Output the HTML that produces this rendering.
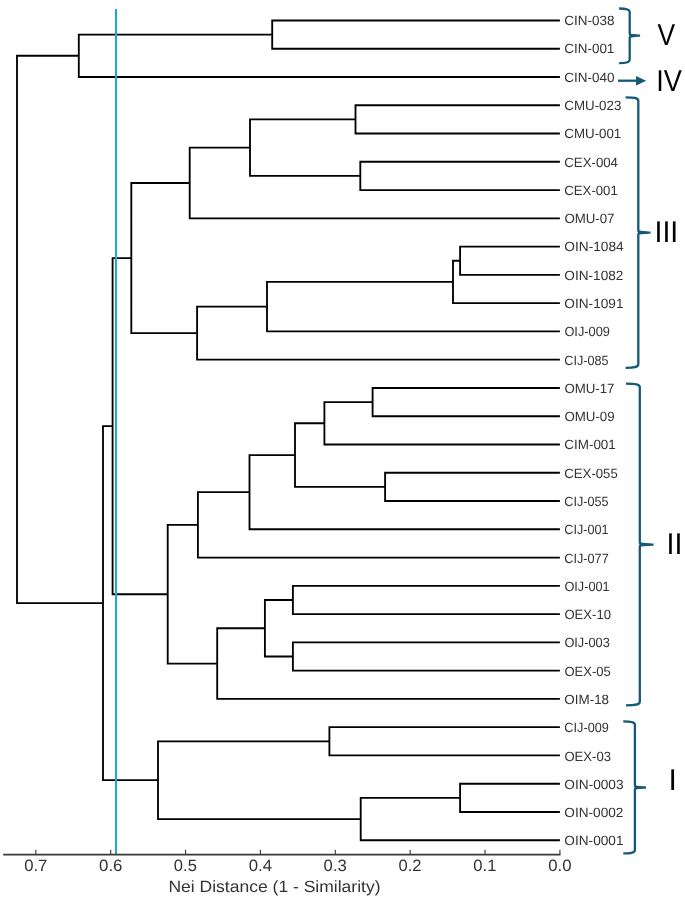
<!DOCTYPE html>
<html><head><meta charset="utf-8"><style>
html,body{margin:0;padding:0;background:#fff;width:685px;height:897px;overflow:hidden;font-family:"Liberation Sans",sans-serif;}
svg{display:block;will-change:transform;}
</style></head><body>
<svg width="685" height="897" viewBox="0 0 685 897">
<rect width="685" height="897" fill="#fff"/>
<path d="M559.90 20.45H272.20V48.72H559.90M272.20 34.58H78.80V76.99H559.90M559.90 105.26H355.50V133.53H559.90M559.90 161.79H360.30V190.06H559.90M355.50 119.39H250.00V175.93H360.30M250.00 147.66H189.70V218.33H559.90M559.90 246.60H460.10V274.87H559.90M460.10 260.74H453.00V303.14H559.90M453.00 281.94H267.00V331.41H559.90M267.00 306.67H197.10V359.68H559.90M189.70 183.00H131.30V333.18H197.10M559.90 387.95H372.60V416.22H559.90M372.60 402.08H324.40V444.48H559.90M559.90 472.75H385.10V501.02H559.90M324.40 423.28H295.00V486.89H385.10M295.00 455.09H249.50V529.29H559.90M249.50 492.19H197.90V557.56H559.90M559.90 585.83H292.90V614.10H559.90M559.90 642.37H292.90V670.64H559.90M292.90 599.96H264.90V656.50H292.90M264.90 628.23H217.20V698.91H559.90M197.90 524.87H167.70V663.57H217.20M131.30 258.09H112.60V594.22H167.70M559.90 727.17H329.40V755.44H559.90M559.90 783.71H460.10V811.98H559.90M460.10 797.85H360.70V840.25H559.90M329.40 741.31H158.00V819.05H360.70M112.60 426.15H103.00V780.18H158.00M78.80 55.79H17.00V603.17H103.00" fill="none" stroke="#000" stroke-width="1.85" stroke-linejoin="miter" stroke-linecap="butt"/>
<line x1="116.0" y1="9.0" x2="116.0" y2="854" stroke="#2ba3d2" stroke-width="2.1"/>
<path d="M3.2 854.6H560.5" stroke="#383838" stroke-width="1.7" fill="none"/>
<path d="M559.90 849.8V854.3M485.03 849.8V854.3M410.16 849.8V854.3M335.29 849.8V854.3M260.42 849.8V854.3M185.55 849.8V854.3M110.68 849.8V854.3M35.81 849.8V854.3" stroke="#444" stroke-width="1.2" fill="none"/>
<g font-family="Liberation Sans, sans-serif" text-rendering="geometricPrecision">
<text x="564.32" y="25.10" font-size="13.4" fill="#333" textLength="50.24" lengthAdjust="spacingAndGlyphs">CIN-038</text>
<text x="564.33" y="53.39" font-size="13.4" fill="#333" textLength="50.00" lengthAdjust="spacingAndGlyphs">CIN-001</text>
<text x="564.32" y="81.67" font-size="13.4" fill="#333" textLength="50.20" lengthAdjust="spacingAndGlyphs">CIN-040</text>
<text x="564.33" y="109.96" font-size="13.4" fill="#333" textLength="57.03" lengthAdjust="spacingAndGlyphs">CMU-023</text>
<text x="564.33" y="138.24" font-size="13.4" fill="#333" textLength="56.94" lengthAdjust="spacingAndGlyphs">CMU-001</text>
<text x="564.34" y="166.53" font-size="13.4" fill="#333" textLength="53.63" lengthAdjust="spacingAndGlyphs">CEX-004</text>
<text x="564.34" y="194.82" font-size="13.4" fill="#333" textLength="53.43" lengthAdjust="spacingAndGlyphs">CEX-001</text>
<text x="564.38" y="223.10" font-size="13.4" fill="#333" textLength="50.10" lengthAdjust="spacingAndGlyphs">OMU-07</text>
<text x="564.36" y="251.39" font-size="13.4" fill="#333" textLength="59.31" lengthAdjust="spacingAndGlyphs">OIN-1084</text>
<text x="564.36" y="279.67" font-size="13.4" fill="#333" textLength="59.03" lengthAdjust="spacingAndGlyphs">OIN-1082</text>
<text x="564.36" y="307.96" font-size="13.4" fill="#333" textLength="59.11" lengthAdjust="spacingAndGlyphs">OIN-1091</text>
<text x="564.40" y="336.25" font-size="13.4" fill="#333" textLength="45.57" lengthAdjust="spacingAndGlyphs">OIJ-009</text>
<text x="564.37" y="364.53" font-size="13.4" fill="#333" textLength="44.19" lengthAdjust="spacingAndGlyphs">CIJ-085</text>
<text x="564.38" y="392.82" font-size="13.4" fill="#333" textLength="50.10" lengthAdjust="spacingAndGlyphs">OMU-17</text>
<text x="564.38" y="421.10" font-size="13.4" fill="#333" textLength="50.26" lengthAdjust="spacingAndGlyphs">OMU-09</text>
<text x="564.33" y="449.39" font-size="13.4" fill="#333" textLength="51.45" lengthAdjust="spacingAndGlyphs">CIM-001</text>
<text x="564.34" y="477.68" font-size="13.4" fill="#333" textLength="53.40" lengthAdjust="spacingAndGlyphs">CEX-055</text>
<text x="564.37" y="505.96" font-size="13.4" fill="#333" textLength="44.19" lengthAdjust="spacingAndGlyphs">CIJ-055</text>
<text x="564.37" y="534.25" font-size="13.4" fill="#333" textLength="44.21" lengthAdjust="spacingAndGlyphs">CIJ-001</text>
<text x="564.36" y="562.53" font-size="13.4" fill="#333" textLength="44.32" lengthAdjust="spacingAndGlyphs">CIJ-077</text>
<text x="564.40" y="590.82" font-size="13.4" fill="#333" textLength="45.30" lengthAdjust="spacingAndGlyphs">OIJ-001</text>
<text x="564.39" y="619.11" font-size="13.4" fill="#333" textLength="46.68" lengthAdjust="spacingAndGlyphs">OEX-10</text>
<text x="564.40" y="647.39" font-size="13.4" fill="#333" textLength="45.39" lengthAdjust="spacingAndGlyphs">OIJ-003</text>
<text x="564.39" y="675.68" font-size="13.4" fill="#333" textLength="46.45" lengthAdjust="spacingAndGlyphs">OEX-05</text>
<text x="564.37" y="703.96" font-size="13.4" fill="#333" textLength="44.73" lengthAdjust="spacingAndGlyphs">OIM-18</text>
<text x="564.36" y="732.25" font-size="13.4" fill="#333" textLength="44.48" lengthAdjust="spacingAndGlyphs">CIJ-009</text>
<text x="564.39" y="760.54" font-size="13.4" fill="#333" textLength="46.57" lengthAdjust="spacingAndGlyphs">OEX-03</text>
<text x="564.36" y="788.82" font-size="13.4" fill="#333" textLength="59.20" lengthAdjust="spacingAndGlyphs">OIN-0003</text>
<text x="564.36" y="817.11" font-size="13.4" fill="#333" textLength="59.03" lengthAdjust="spacingAndGlyphs">OIN-0002</text>
<text x="564.36" y="845.39" font-size="13.4" fill="#333" textLength="59.11" lengthAdjust="spacingAndGlyphs">OIN-0001</text>
<text x="548.23" y="870.70" font-size="16.4" fill="#333" textLength="23.33" lengthAdjust="spacingAndGlyphs">0.0</text>
<text x="473.37" y="870.70" font-size="16.4" fill="#333" textLength="23.08" lengthAdjust="spacingAndGlyphs">0.1</text>
<text x="398.50" y="870.70" font-size="16.4" fill="#333" textLength="22.98" lengthAdjust="spacingAndGlyphs">0.2</text>
<text x="323.63" y="870.70" font-size="16.4" fill="#333" textLength="23.19" lengthAdjust="spacingAndGlyphs">0.3</text>
<text x="248.75" y="870.70" font-size="16.4" fill="#333" textLength="23.32" lengthAdjust="spacingAndGlyphs">0.4</text>
<text x="173.89" y="870.70" font-size="16.4" fill="#333" textLength="23.04" lengthAdjust="spacingAndGlyphs">0.5</text>
<text x="99.01" y="870.70" font-size="16.4" fill="#333" textLength="23.47" lengthAdjust="spacingAndGlyphs">0.6</text>
<text x="24.15" y="870.70" font-size="16.4" fill="#333" textLength="23.22" lengthAdjust="spacingAndGlyphs">0.7</text>
<text x="168.46" y="891.60" font-size="16.3" fill="#333" textLength="212.06" lengthAdjust="spacingAndGlyphs">Nei Distance (1 - Similarity)</text>
</g>
<path d="M619.10 8.50C625.20 8.50 629.70 9.00 629.70 12.00L629.70 33.10Q629.70 35.70 632.30 35.70L640.10 35.70M619.10 63.20C625.20 63.20 629.70 62.70 629.70 59.70L629.70 38.30Q629.70 35.70 632.30 35.70" fill="none" stroke="#145a78" stroke-width="2.3" stroke-linecap="butt" stroke-linejoin="round"/><path d="M630.20 33.70L637.10 34.60L637.10 36.80L630.20 37.70Z" fill="#145a78"/>
<path d="M625.60 97.30C633.80 97.30 638.30 97.80 638.30 100.80L638.30 229.95Q638.30 232.55 640.90 232.55L650.50 232.55M625.60 367.80C633.80 367.80 638.30 367.30 638.30 364.30L638.30 235.15Q638.30 232.55 640.90 232.55" fill="none" stroke="#145a78" stroke-width="2.3" stroke-linecap="butt" stroke-linejoin="round"/><path d="M638.80 230.55L647.50 231.45L647.50 233.65L638.80 234.55Z" fill="#145a78"/>
<path d="M626.00 383.70C635.30 383.70 639.80 384.20 639.80 387.20L639.80 542.00Q639.80 544.60 642.40 544.60L653.60 544.60M626.00 705.30C635.30 705.30 639.80 704.80 639.80 701.80L639.80 547.20Q639.80 544.60 642.40 544.60" fill="none" stroke="#145a78" stroke-width="2.3" stroke-linecap="butt" stroke-linejoin="round"/><path d="M640.30 542.60L650.60 543.50L650.60 545.70L640.30 546.60Z" fill="#145a78"/>
<path d="M623.30 721.40C630.40 721.40 634.90 721.90 634.90 724.90L634.90 784.90Q634.90 787.50 637.50 787.50L646.00 787.50M623.30 853.40C630.40 853.40 634.90 852.90 634.90 849.90L634.90 790.10Q634.90 787.50 637.50 787.50" fill="none" stroke="#145a78" stroke-width="2.3" stroke-linecap="butt" stroke-linejoin="round"/><path d="M635.40 785.50L643.00 786.40L643.00 788.60L635.40 789.50Z" fill="#145a78"/>
<path d="M618.0 80.7H637" stroke="#145a78" stroke-width="2.3" fill="none"/><path d="M636.0 76.1L646.2 80.7L636.0 85.4Z" fill="#145a78"/>
<g font-family="Liberation Sans, sans-serif" text-rendering="geometricPrecision"><text x="657.38" y="44.60" font-size="30.0" fill="#000" textLength="17.63" lengthAdjust="spacingAndGlyphs">V</text><text x="656.29" y="91.30" font-size="30.0" fill="#000" textLength="25.73" lengthAdjust="spacingAndGlyphs">IV</text><text x="654.47" y="241.50" font-size="30.0" fill="#000" textLength="23.76" lengthAdjust="spacingAndGlyphs">III</text><text x="666.46" y="553.80" font-size="30.0" fill="#000" textLength="15.87" lengthAdjust="spacingAndGlyphs">II</text><text x="668.38" y="789.80" font-size="30.0" fill="#000">I</text></g>
</svg>
</body></html>
